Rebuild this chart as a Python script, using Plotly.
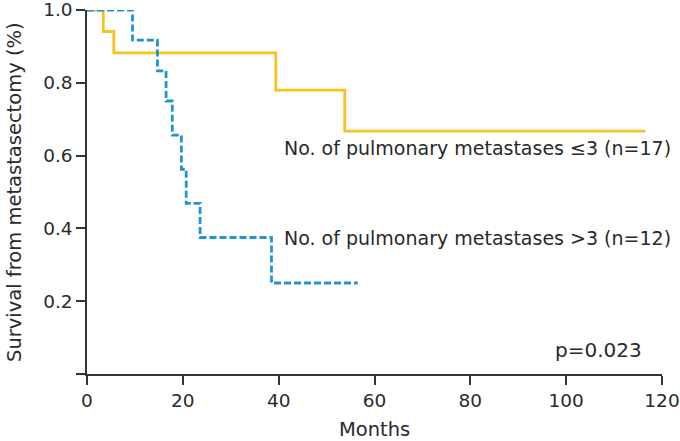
import plotly.graph_objects as go

# Kaplan-Meier step data (months, survival)
le3_months = [0, 3.4, 5.6, 39.4, 53.8, 116.5]
le3_surv = [1.0, 0.941, 0.882, 0.78, 0.667, 0.667]

gt3_months = [0, 9.5, 14.7, 16.5, 17.8, 19.7, 20.7, 23.6, 38.5, 56.5]
gt3_surv = [1.0, 0.917, 0.833, 0.75, 0.656, 0.5625, 0.469, 0.375, 0.25, 0.25]

x_ticks = [0, 20, 40, 60, 80, 100, 120]
y_ticks = [0, 0.2, 0.4, 0.6, 0.8, 1.0]
y_ticktext = ["", "0.2", "0.4", "0.6", "0.8", "1.0"]

label_le3 = "No. of pulmonary metastases ≤3 (n=17)"
label_gt3 = "No. of pulmonary metastases >3 (n=12)"
p_text = "p=0.023"
x_title = "Months"
y_title = "Survival from metastasectomy (%)"

FONT = "DejaVu Sans"
TXT = "#2a2a2a"
FS = 19

fig = go.Figure()
fig.add_trace(go.Scatter(x=le3_months, y=le3_surv, mode="lines", line_shape="hv",
                         line=dict(color="#F5C31C", width=2.8), cliponaxis=False,
                         showlegend=False, hoverinfo="skip"))
fig.add_trace(go.Scatter(x=gt3_months, y=gt3_surv, mode="lines", line_shape="hv",
                         line=dict(color="#1F95D4", width=2.8, dash="7px,3px"),
                         cliponaxis=False, showlegend=False, hoverinfo="skip"))

fig.add_annotation(x=40.7, y=0.622, text=label_le3, showarrow=False, xanchor="left",
                   yanchor="middle", font=dict(family=FONT, size=FS, color=TXT))
fig.add_annotation(x=40.7, y=0.374, text=label_gt3, showarrow=False, xanchor="left",
                   yanchor="middle", font=dict(family=FONT, size=FS, color=TXT))
fig.add_annotation(x=97.2, y=0.065, text=p_text, showarrow=False, xanchor="left",
                   yanchor="middle", font=dict(family=FONT, size=20, color=TXT))
# axis titles
fig.add_annotation(xref="paper", yref="paper", x=0.5, y=0, yshift=-55, text=x_title,
                   showarrow=False, xanchor="center", yanchor="middle",
                   font=dict(family=FONT, size=19.5, color=TXT))
fig.add_annotation(xref="paper", yref="paper", x=0, y=0.5, xshift=-73, text=y_title,
                   textangle=-90, showarrow=False, xanchor="center", yanchor="middle",
                   font=dict(family=FONT, size=19.5, color=TXT))

fig.update_layout(
    width=680, height=441,
    margin=dict(l=87, r=18, t=10, b=67, autoexpand=False),
    paper_bgcolor="white", plot_bgcolor="white",
    font=dict(family=FONT, size=18.5, color=TXT),
    xaxis=dict(range=[0, 120], tickvals=x_ticks, showgrid=False, zeroline=False,
               showline=True, linecolor="#333333", linewidth=1.5, automargin=False,
               ticklabeloverflow="allow",
               ticks="outside", ticklen=9, tickcolor="#333333", tickwidth=1.5),
    yaxis=dict(range=[0, 1.0], tickvals=y_ticks, ticktext=y_ticktext, showgrid=False,
               zeroline=False, showline=True, linecolor="#333333", linewidth=1.5,
               automargin=False, ticklabeloverflow="allow",
               ticks="outside", ticklen=9, tickcolor="#333333", tickwidth=1.5),
)

fig.write_html("out.html", config={"displayModeBar": False},
               post_script="document.body.style.margin='0';document.body.style.overflow='hidden';")
